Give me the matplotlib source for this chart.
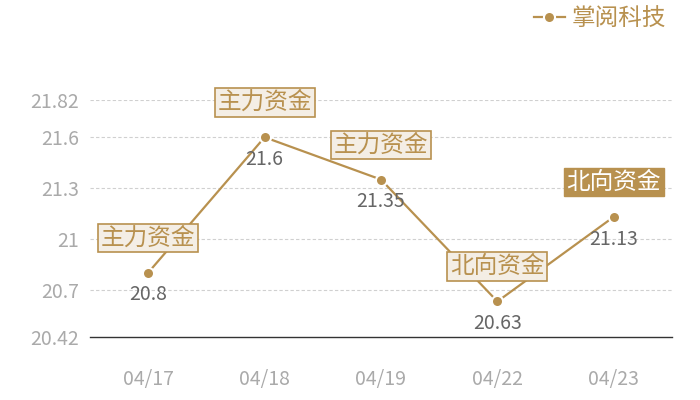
import matplotlib
matplotlib.use("Agg")
import matplotlib.pyplot as plt

plt.rcParams['font.family'] = ['Noto Sans CJK SC', 'DejaVu Sans']

dates = ["04/17", "04/18", "04/19", "04/22", "04/23"]
values = [20.8, 21.6, 21.35, 20.63, 21.13]
tags = ["主力资金", "主力资金", "主力资金", "北向资金", "北向资金"]
highlight = [False, False, False, False, True]
yticks = [20.42, 20.7, 21, 21.3, 21.6, 21.82]
ytick_labels = ["20.42", "20.7", "21", "21.3", "21.6", "21.82"]
series_name = "掌阅科技"

gold = "#b8914f"
fill_light = "#f4eee5"

fig = plt.figure(figsize=(7, 4), dpi=100)
ax = fig.add_axes([90/700, 63/400, 582/700, 237/400])

x = list(range(len(dates)))
ax.plot(x, values, color=gold, lw=1.6, marker='o', ms=8,
        markerfacecolor=gold, markeredgecolor='white', markeredgewidth=1.5,
        label=series_name, zorder=3)

ax.set_xlim(-0.5, len(dates) - 0.5)
ax.set_ylim(20.42, 21.82)
ax.set_yticks(yticks)
ax.set_yticklabels(ytick_labels)
ax.set_xticks(x)
ax.set_xticklabels(dates)

for s in ['top', 'right', 'left']:
    ax.spines[s].set_visible(False)
ax.spines['bottom'].set_color('#333333')
ax.spines['bottom'].set_linewidth(1)
ax.tick_params(axis='both', length=0, colors='#aaaaaa', labelsize=14)
ax.tick_params(axis='x', pad=23)
ax.tick_params(axis='y', pad=8)
for yt in yticks[1:]:
    ax.axhline(yt, color='#d0d0d0', lw=0.8, ls=(0, (3, 2)), zorder=1)

for xi, v, t, h in zip(x, values, tags, highlight):
    ax.annotate(f"{v:g}", (xi, v), xytext=(0, -16), textcoords='offset points',
                ha='center', va='center', fontsize=14, color='#666666', zorder=4)
    if h:
        bbox = dict(boxstyle='square,pad=0.12', fc=gold, ec=gold, lw=1)
        tc = 'white'
    else:
        bbox = dict(boxstyle='square,pad=0.12', fc=fill_light, ec=gold, lw=1.2)
        tc = gold
    ax.annotate(t, (xi, v), xytext=(0, 25), textcoords='offset points',
                ha='center', va='center', fontsize=17, color=tc, bbox=bbox, zorder=5)

leg = fig.legend(loc='upper right', bbox_to_anchor=(0.982, 1.035), frameon=False,
                 fontsize=17, handlelength=1.3, handletextpad=0.3, markerscale=1.0)
for text in leg.get_texts():
    text.set_color(gold)

fig.savefig("out.png", dpi=100)
